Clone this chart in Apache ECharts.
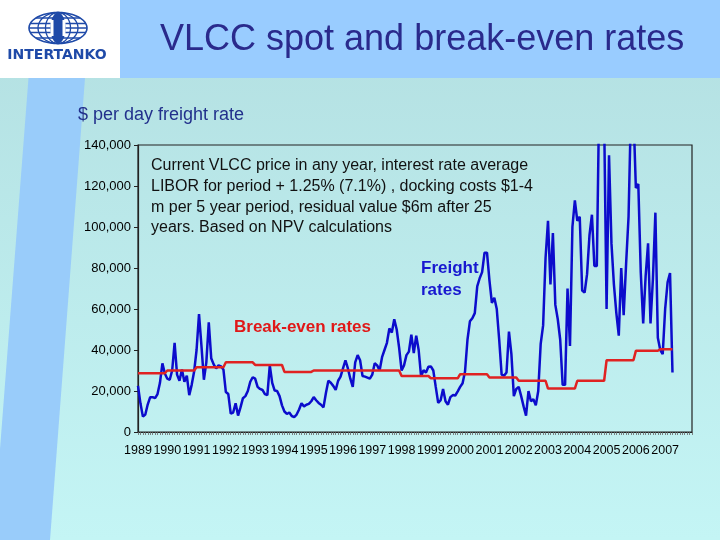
<!DOCTYPE html>
<html><head><meta charset="utf-8">
<script src="https://cdn.jsdelivr.net/npm/echarts/dist/echarts.min.js"></script>
<style>html,body{margin:0;padding:0;background:#fff}#c{width:720px;height:540px}</style>
</head><body><div id="c"></div>
<script>
// ---- tick labels / categories ----
const yearLabels = ['1989','1990','1991','1992','1993','1994','1995','1996','1997','1998','1999','2000','2001','2002','2003','2004','2005','2006','2007'];
const monthNames = ['01','02','03','04','05','06','07','08','09','10','11','12'];
const yTicks = [0, 20000, 40000, 60000, 80000, 100000, 120000, 140000];

// ---- VLCC spot freight rates, $/day, monthly ----
const freight1989 = [22500, 14000, 7500, 8500, 13500, 17000, 17000, 16500, 18500, 24000, 33500, 28500];
const freight1990 = [26000, 25500, 30000, 43500, 28000, 25000, 30500, 24500, 27500, 18000, 23000, 29500];
const freight1991 = [40000, 57500, 42000, 25500, 34000, 53500, 36000, 33000, 31000, 32500, 32000, 30500];
const freight1992 = [19500, 18500, 9000, 9500, 14000, 8000, 12000, 16500, 17500, 20000, 24500, 26700];
const freight1993 = [26000, 22000, 21000, 20500, 18500, 18000, 32500, 24000, 20200, 20000, 17500, 13000];
const freight1994 = [10000, 8800, 9500, 7800, 7300, 8500, 11000, 14000, 12500, 13300, 13700, 15000];
const freight1995 = [17000, 15500, 14200, 13300, 12000, 19000, 25000, 24000, 22500, 20500, 25000, 27000];
const freight1996 = [31000, 35000, 31000, 26000, 22000, 34000, 37500, 35000, 27300, 27000, 26500, 26000];
const freight1997 = [28000, 33500, 32500, 30000, 36500, 40000, 43500, 50500, 48500, 55000, 50000, 41000];
const freight1998 = [30000, 32500, 37500, 39200, 47500, 38500, 47000, 40000, 27000, 30200, 29000, 31800];
const freight1999 = [32000, 30000, 22000, 14200, 15500, 21000, 15000, 13300, 17000, 18000, 17800, 19800];
const freight2000 = [22000, 23800, 29500, 45000, 54000, 55500, 58000, 71000, 75000, 78000, 87500, 87500];
const freight2001 = [74000, 63000, 65500, 60000, 45000, 28000, 27500, 29000, 49000, 38000, 17500, 21000];
const freight2002 = [22000, 17500, 12500, 8000, 20000, 15000, 16000, 13000, 20000, 43000, 52000, 85000];
const freight2003 = [103000, 72000, 97000, 62000, 55000, 45000, 23000, 23000, 70000, 42000, 100000, 113000];
const freight2004 = [103000, 105000, 69000, 68000, 77000, 96000, 106000, 81000, 81000, 165000, 190000, 153000];
const freight2005 = [60000, 135000, 92000, 72000, 58000, 47000, 80000, 57000, 82000, 105000, 158000, 156000];
const freight2006 = [119000, 121000, 78000, 53000, 76000, 92000, 53000, 75000, 107000, 46000, 40000, 38000];
const freight2007 = [60000, 73000, 77500, 29000];

// ---- break-even rates, $/day, monthly ----
const be1989 = [28700,28700,28700,28700,28700,28700,28700,28700,28700,28700,28700,28700];
const be1990 = [30000,30000,30000,30000,30000,30000,30000,30000,30000,30000,30000,30000];
const be1991 = [31600,31600,31600,31600,31600,31600,31600,31600,31600,31600,31600,31600];
const be1992 = [34000,34000,34000,34000,34000,34000,34000,34000,34000,34000,34000,34000];
const be1993 = [32700,32700,32700,32700,32700,32700,32700,32700,32700,32700,32700,32700];
const be1994 = [29300,29300,29300,29300,29300,29300,29300,29300,29300,29300,29300,29300];
const be1995 = [30000,30000,30000,30000,30000,30000,30000,30000,30000,30000,30000,30000];
const be1996 = [30000,30000,30000,30000,30000,30000,30000,30000,30000,30000,30000,30000];
const be1997 = [30000,30000,30000,30000,30000,30000,30000,30000,30000,30000,30000,30000];
const be1998 = [27300,27300,27300,27300,27300,27300,27300,27300,27300,27300,27300,27300];
const be1999 = [26200,26200,26200,26200,26200,26200,26200,26200,26200,26200,26200,26200];
const be2000 = [28200,28200,28200,28200,28200,28200,28200,28200,28200,28200,28200,28200];
const be2001 = [26600,26600,26600,26600,26600,26600,26600,26600,26600,26600,26600,26600];
const be2002 = [25000,25000,25000,25000,25000,25000,25000,25000,25000,25000,25000,25000];
const be2003 = [21200,21200,21200,21200,21200,21200,21200,21200,21200,21200,21200,21200];
const be2004 = [25000,25000,25000,25000,25000,25000,25000,25000,25000,25000,25000,25000];
const be2005 = [35000,35000,35000,35000,35000,35000,35000,35000,35000,35000,35000,35000];
const be2006 = [39600,39600,39600,39600,39600,39600,39600,39600,39600,39600,40400,40400];
const be2007 = [40400,40400,40400,40400];

const freight = [].concat(freight1989, freight1990, freight1991, freight1992, freight1993, freight1994,
  freight1995, freight1996, freight1997, freight1998, freight1999, freight2000, freight2001, freight2002,
  freight2003, freight2004, freight2005, freight2006, freight2007);
const breakEven = [].concat(be1989, be1990, be1991, be1992, be1993, be1994, be1995, be1996, be1997,
  be1998, be1999, be2000, be2001, be2002, be2003, be2004, be2005, be2006, be2007);

const categories = [];
yearLabels.forEach(y => monthNames.forEach(m => categories.push(y + '-' + m)));

const FONT = '"Liberation Sans", Arial, sans-serif';

// logo helper: ellipse outline points
function ell(cx, cy, rx, ry) {
  const p = [];
  for (let k = 0; k < 48; k++) { const a = k / 48 * Math.PI * 2; p.push([cx + rx * Math.cos(a), cy + ry * Math.sin(a)]); }
  return p;
}
const LOGO = '#1f4aa8';
const gcx = 58, gcy = 28, grx = 29, gry = 15.5;
function latLine(dy) {
  const hw = grx * Math.sqrt(1 - (dy * dy) / (gry * gry));
  return { type: 'line', shape: { x1: gcx - hw, y1: gcy + dy, x2: gcx + hw, y2: gcy + dy }, style: { stroke: LOGO, lineWidth: 1.3 }, z: 5 };
}

const chart = echarts.init(document.getElementById('c'), null, { renderer: 'canvas' });
chart.setOption({
  animation: false,
  backgroundColor: 'transparent',
  graphic: [
    { type: 'rect', z: -100, shape: { x: 0, y: 0, width: 720, height: 540 },
      style: { fill: { type: 'linear', x: 0, y: 0, x2: 0, y2: 1, colorStops: [{ offset: 0, color: '#b3dfe1' }, { offset: 1, color: '#c4f5f5' }] } } },
    { type: 'polygon', z: -99, shape: { points: [[28.5, 78], [85, 78], [50, 540], [-7, 540]] }, style: { fill: '#99ccfa' } },
    { type: 'rect', z: -98, shape: { x: 120, y: 0, width: 600, height: 78 }, style: { fill: '#99ccff' } },
    { type: 'rect', z: -98, shape: { x: 0, y: 0, width: 120, height: 78 }, style: { fill: '#ffffff' } },
    // logo
    { type: 'polygon', z: 5, shape: { points: ell(gcx, gcy, grx, gry) }, style: { fill: 'none', stroke: LOGO, lineWidth: 1.6 } },
    { type: 'polygon', z: 5, shape: { points: ell(gcx, gcy, 20, gry) }, style: { fill: 'none', stroke: LOGO, lineWidth: 1.3 } },
    { type: 'polygon', z: 5, shape: { points: ell(gcx, gcy, 12.5, gry) }, style: { fill: 'none', stroke: LOGO, lineWidth: 1.3 } },
    latLine(-10), latLine(-4.5), latLine(0), latLine(4.5), latLine(10),
    { type: 'polygon', z: 6, shape: { points: ell(gcx, gcy, 7.5, gry) }, style: { fill: LOGO } },
    { type: 'rect', z: 7, shape: { x: gcx - 7.5, y: gcy - 8, width: 3, height: 16 }, style: { fill: '#ffffff' } },
    { type: 'rect', z: 7, shape: { x: gcx + 4.5, y: gcy - 8, width: 3, height: 16 }, style: { fill: '#ffffff' } },
    { type: 'text', z: 6, x: 57, y: 55, style: { text: 'INTERTANKO', fontFamily: '"DejaVu Sans", sans-serif', fontWeight: 'bold', fontSize: 14, fill: LOGO, textAlign: 'center', textVerticalAlign: 'middle', verticalAlign: 'middle' } },
    // titles
    { type: 'text', z: 6, x: 160, y: 40, style: { text: 'VLCC spot and break-even rates', fontFamily: FONT, fontSize: 36, fill: '#2a2a8c', textVerticalAlign: 'middle', verticalAlign: 'middle' } },
    { type: 'text', z: 6, x: 78, y: 115, style: { text: '$ per day freight rate', fontFamily: FONT, fontSize: 18, fill: '#22308c', textVerticalAlign: 'middle', verticalAlign: 'middle' } },
    // annotations
    { type: 'text', z: 10, x: 151, y: 155.6, style: { text: 'Current VLCC price in any year, interest rate average\nLIBOR for period + 1.25% (7.1%) , docking costs $1-4\nm per 5 year period, residual value $6m after 25\nyears. Based on NPV calculations', fontFamily: FONT, fontSize: 16, lineHeight: 20.7, fill: '#111111', textVerticalAlign: 'top', verticalAlign: 'top' } },
    { type: 'text', z: 10, x: 421, y: 257, style: { text: 'Freight\nrates', fontFamily: FONT, fontSize: 17, fontWeight: 'bold', lineHeight: 22, fill: '#1818d0', textVerticalAlign: 'top', verticalAlign: 'top' } },
    { type: 'text', z: 10, x: 234, y: 327, style: { text: 'Break-even rates', fontFamily: FONT, fontSize: 17, fontWeight: 'bold', fill: '#e01818', textVerticalAlign: 'middle', verticalAlign: 'middle' } }
  ],
  grid: { left: 138, top: 145, width: 554, height: 287, show: true, borderColor: '#222', borderWidth: 1.2, backgroundColor: 'transparent' },
  xAxis: {
    type: 'category', data: categories, boundaryGap: false,
    axisLine: { show: true, lineStyle: { color: '#222', width: 1.2 } },
    axisTick: { show: true, interval: 0, length: 3, lineStyle: { color: '#666', width: 0.8 } },
    axisLabel: { interval: (idx) => idx % 12 === 0, formatter: (v, idx) => yearLabels[Math.floor(idx / 12)], fontFamily: FONT, fontSize: 12.5, color: '#000', margin: 12 },
    splitLine: { show: false }
  },
  yAxis: {
    type: 'value', min: yTicks[0], max: yTicks[yTicks.length - 1], interval: 20000,
    axisLine: { show: true, lineStyle: { color: '#222', width: 1.2 } },
    axisTick: { show: true, length: 4, lineStyle: { color: '#222' } },
    axisLabel: { formatter: (v) => v.toLocaleString('en-US'), fontFamily: FONT, fontSize: 13, color: '#000', margin: 7 },
    splitLine: { show: false }
  },
  series: [
    { name: 'Freight rates', type: 'line', data: freight, showSymbol: false, clip: true, z: 3,
      lineStyle: { color: '#0c0ccc', width: 2.5 } },
    { name: 'Break-even rates', type: 'line', data: breakEven, showSymbol: false, clip: true, z: 4,
      lineStyle: { color: '#e02222', width: 2.5 } }
  ]
});
</script></body></html>
